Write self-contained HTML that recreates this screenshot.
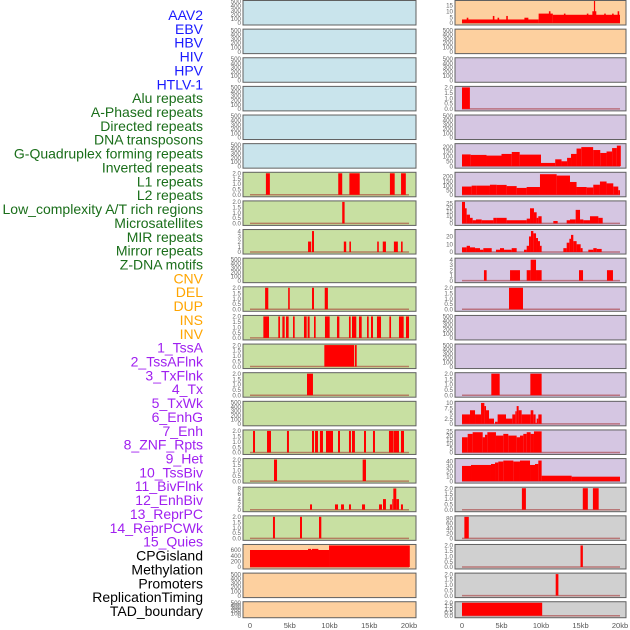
<!DOCTYPE html>
<html><head><meta charset="utf-8"><style>
html,body{margin:0;padding:0;background:#fff;}
svg{display:block;font-family:"Liberation Sans",sans-serif;}
</style></head><body>
<svg id="fig" width="630" height="630" viewBox="0 0 630 630"></svg>
<script>
const trackLabels = ["AAV2","EBV","HBV","HIV","HPV","HTLV-1","Alu repeats","A-Phased repeats","Directed repeats","DNA transposons","G-Quadruplex forming repeats","Inverted repeats","L1 repeats","L2 repeats","Low_complexity A/T rich regions","Microsatellites","MIR repeats","Mirror repeats","Z-DNA motifs","CNV","DEL","DUP","INS","INV","1_TssA","2_TssAFlnk","3_TxFlnk","4_Tx","5_TxWk","6_EnhG","7_Enh","8_ZNF_Rpts","9_Het","10_TssBiv","11_BivFlnk","12_EnhBiv","13_ReprPC","14_ReprPCWk","15_Quies","CPGisland","Methylation","Promoters","ReplicationTiming","TAD_boundary"];
const labelGroups = [6,13,5,15,5];
const xTickLabels = ["0","5kb","10kb","15kb","20kb"];
const xTickValues = [0,5,10,15,20];

const T2 = [0,0.5,1,1.5,2];
const T500 = [0,100,200,300,400,500];

const leftBg = ["b","b","b","b","b","b","g","g","g","g","g","g","g","g","g","g","g","g","g","o","o","o"];
const leftLim = [500,500,500,500,500,500,2,2,4.1,500,2,2,2,2,500,2,2,8.1,2,760,500,500];
const leftTicks = [T500,T500,T500,T500,T500,T500,T2,T2,[0,1,2,3,4],T500,T2,T2,T2,T2,T500,T2,T2,[0,2,4,6,8],T2,[0,200,400,600],T500,T500];
const leftSegs = [
 [],[],[],[],[],[],
 [[2.0,2.5,2],[11.1,11.6,2],[12.5,13.8,2],[17.6,18.2,2],[19.0,19.6,2]],
 [[11.6,11.9,2]],
 [[7.3,7.7,2],[7.8,8.05,4],[11.8,12.1,2],[12.5,12.7,2],[16.0,16.2,2],[16.7,17.1,2],[18.1,18.6,2],[19.0,19.2,2]],
 [],
 [[1.9,2.3,2],[4.8,5.0,2],[7.8,8.05,2],[9.4,9.8,2]],
 [[1.68,2.39,2],[3.56,3.77,2],[4.07,4.36,2],[4.53,4.86,2],[5.41,5.62,2],[6.79,7.13,2],[7.25,7.5,2],[8.05,8.26,2],[9.43,10.02,2],[10.94,11.24,2],[12.45,12.66,2],[12.83,13.37,2],[13.71,14.05,2],[14.72,14.93,2],[15.22,15.47,2],[15.97,16.48,2],[17.53,17.74,2],[18.74,19.33,2],[19.62,20.0,2]],
 [[9.35,13.1,2],[13.2,13.42,2]],
 [[7.17,7.92,2]],
 [],
 [[0.38,0.63,2],[2.14,2.64,2],[4.65,4.9,2],[7.8,8.05,2],[8.18,8.55,2],[8.8,9.18,2],[9.56,10.44,2],[11.07,11.32,2],[12.45,12.7,2],[12.83,13.2,2],[14.34,14.59,2],[15.47,15.72,2],[17.48,17.99,2],[18.03,18.74,2],[18.99,19.37,2]],
 [[3.02,3.4,2],[14.17,14.59,2]],
 [[7.55,7.8,2],[10.69,11.07,2],[11.45,11.82,2],[12.45,12.7,2],[14.09,14.47,2],[16.23,16.6,2],[16.73,17.1,4],[17.6,17.86,2],[17.9,18.03,4],[18.03,18.4,8],[18.4,18.74,4],[18.99,19.24,2]],
 [[2.89,3.14,2],[6.29,6.54,2],[8.68,8.97,2]],
 [[0,9.94,600],[7.3,7.7,640],[7.8,8.6,640],[9.94,20.1,760]],
 [],[]
];

const rightBg = ["o","o","p","p","p","p","p","p","p","p","p","p","p","p","p","p","p","k","k","k","k","k"];
const rightLim = [18.3,500,500,2,500,220,235,27,27.6,4.1,2,500,500,2,10.3,25.5,44,2,86,2,2,2];
const rightTicks = [[0,5,10,15],T500,T500,T2,T500,[0,50,100,150,200],[0,50,100,150,200],[0,5,10,15,20,25],[0,10,20],[0,1,2,3,4],T2,T500,T500,T2,[0,2.5,5,7.5,10],[0,5,10,15,20,25],[0,10,20,30,40],T2,[0,20,40,60,80],T2,T2,T2];
const rightSegs = [
 [[0,9.7,3],[9.7,11.5,8],[11.5,20,7],[0.6,0.8,4.5],[3.9,4.1,6],[4.5,4.7,4.5],[5.6,5.8,6],[7.9,8.4,4.5],[11.0,11.2,10],[12.9,13.1,8],[15.8,16.0,8],[16.5,17.0,10],[16.7,16.85,19],[18.0,18.2,8],[19.0,19.2,8],[19.7,19.9,10]],
 [],[],
 [[0,1.0,2]],
 [],
 [[0,1.1,120],[1.1,3.1,115],[3.1,5.0,108],[5.0,6.3,125],[6.3,7.3,145],[7.3,10.0,118],[10.0,11.8,33],[11.8,12.6,70],[12.6,13.3,50],[13.3,13.8,85],[13.8,14.5,125],[14.5,15.1,180],[15.1,16.6,195],[16.6,17.5,165],[17.5,18.3,135],[18.3,19.0,150],[19.0,19.6,185],[19.6,20.1,210]],
 [[0,1.22,90],[1.22,1.86,100],[1.86,3.54,100],[3.54,4.39,110],[4.39,5.65,108],[5.65,6.92,95],[6.92,8.18,75],[8.18,9.87,85],[9.87,11.98,225],[11.98,13.67,210],[13.67,14.5,140],[14.5,15.78,85],[15.78,16.62,80],[16.62,17.46,110],[17.46,18.3,145],[18.3,19.15,125],[19.15,19.78,90],[19.78,20,50]],
 [[0,0.38,27],[0.38,0.59,19],[0.59,1.01,11],[1.01,1.35,7],[1.35,1.77,4],[1.77,2.49,5],[2.49,3.97,4],[3.97,4.39,7],[4.39,5.65,7],[5.65,8.19,4],[8.19,8.61,6],[8.61,9.11,19],[9.11,9.45,14],[9.45,9.66,7],[9.66,10.08,9],[11.56,12.11,3],[13.25,13.67,4],[13.67,14.39,5],[14.39,14.94,17],[14.94,15.36,5],[15.36,16.2,4],[16.2,17.26,9],[17.26,17.81,7]],
 [[0,0.59,6],[0.59,1.01,8],[1.01,1.65,6],[1.65,2.28,5],[2.28,2.7,3],[2.7,3.76,5],[4.3,4.81,3],[4.81,5.32,5],[5.32,6.29,3],[6.29,6.92,5],[7.85,8.19,3],[8.19,8.48,8],[8.48,8.73,20],[8.73,9.03,27],[9.03,9.37,24],[9.37,9.62,18],[9.62,9.87,14],[9.87,10.08,8],[12.83,13.25,5],[13.25,13.59,12],[13.59,13.8,17],[13.8,14.09,22],[14.09,14.51,14],[14.51,15.02,10],[15.02,15.27,5],[15.99,16.62,3],[16.62,17.05,5],[17.05,17.68,4]],
 [[2.78,3.12,2],[6.08,7.34,2],[8.19,8.69,2],[8.69,9.37,4],[9.37,10.08,2],[14.81,15.32,2],[18.35,19.11,2]],
 [[5.95,7.72,2]],
 [],[],
 [[3.71,4.77,2],[8.65,10.08,2]],
 [[0,1.01,4.5],[1.01,1.65,6.5],[1.65,2.41,4.5],[2.41,2.83,10],[2.83,3.04,8.5],[3.04,3.42,6.5],[3.42,4.05,2.5],[4.18,4.51,1],[4.51,5.57,4.5],[5.57,6.37,2.5],[6.37,6.75,4.5],[6.75,6.92,6],[6.92,7.17,8.5],[7.17,7.55,6.5],[7.55,8.69,4.5],[8.69,9.03,6.5],[9.03,9.32,4.5],[9.32,9.45,0.5],[9.45,9.66,2.5],[9.66,10.08,4.5]],
 [[0,0.72,18],[0.72,1.35,22],[1.35,2.62,24],[2.62,2.91,18],[2.91,3.21,21],[3.21,4.3,24],[4.3,5.23,20],[5.23,5.86,22],[5.86,6.92,20],[6.92,7.34,18],[7.34,7.76,20],[7.76,8.19,22],[8.19,8.69,24],[8.69,9.11,22],[9.11,10.08,25]],
 [[0,1.14,31],[1.14,3.67,33],[3.67,4.18,35],[4.18,4.6,38],[4.6,5.23,40],[5.23,6.5,42],[6.5,7.34,40],[7.34,8.61,42],[8.61,9.24,33],[9.24,9.66,35],[9.66,10.08,42],[10.08,13.88,11],[13.88,20,9]],
 [[7.58,8.09,2],[15.29,15.93,2],[16.57,17.3,2]],
 [[0.3,0.86,86]],
 [[15.0,15.3,2]],
 [[11.86,12.2,2]],
 [[0,10.15,2]]
];

const NS = "http://www.w3.org/2000/svg";
const svg = document.getElementById("fig");
function mk(tag, attrs, parent){ const e=document.createElementNS(NS,tag); for(const k in attrs) e.setAttribute(k,attrs[k]); (parent||svg).appendChild(e); return e; }
const bgColors = {b:"#c9e4ec", g:"#c8e0a2", o:"#fdd09f", p:"#d5c6e2", k:"#d0d0d0"};
const groupColors = ["#1a1aff","#1a6e1a","#ffa500","#a020f0","#000000"];

// labels
let gi=0, gc=0;
trackLabels.forEach((txt,i)=>{
  const t = mk("text",{x:203,y:20+i*13.86,"text-anchor":"end","font-size":"14",fill:groupColors[gi]});
  t.textContent = txt;
  
  
  gc++; if(gc>=labelGroups[gi]){gi++;gc=0;}
});

function rowTop(r){ return r*28.63; }
function rowH(r){ return r===21 ? 16 : 24.5; }

function drawPanel(side, r, bg, lim, ticks, segs){
  const bx = side===0 ? 243 : 455, bw = side===0 ? 173 : 171;
  const x0 = side===0 ? 250 : 462, x1 = side===0 ? 409 : 620;
  const xs = kb => x0 + (kb/20)*(x1-x0);
  const top = rowTop(r)+0.5, h = rowH(r), bot = top+h;
  const ys = v => bot-2 - Math.min(v,lim*1.06)/lim*(h-3);
  const g = mk("g",{});
  
  
  mk("rect",{x:bx,y:top,width:bw,height:h,fill:bgColors[bg],stroke:"none"},g);
  const cp = "clip"+side+"_"+r;
  const cpe = mk("clipPath",{id:cp},g); mk("rect",{x:bx,y:top,width:bw,height:h},cpe);
  const dg = mk("g",{"clip-path":"url(#"+cp+")"},g);
  if(segs.length){
    const bl = mk("line",{x1:xs(0),x2:xs(20),y1:ys(0),y2:ys(0),stroke:"rgba(160,30,30,0.5)","stroke-width":1.5},dg);
    
    
  }
  segs.forEach(s=>{
    const b = mk("rect",{x:xs(s[0]),y:ys(s[2]),width:Math.max(0.8,xs(s[1])-xs(s[0])),height:ys(0)-ys(s[2]),fill:"#ff0000"},dg);
    
    
  });
  mk("rect",{x:bx,y:top,width:bw,height:h,fill:"none",stroke:"#606060","stroke-width":1},g);
  ticks.forEach(tv=>{
    const t = mk("text",{x:bx-2,y:ys(tv)+2.2,"text-anchor":"end","font-size":"6.2",fill:"#666"},g);
    t.textContent = (lim<=2.1 && ticks===T2) ? tv.toFixed(1) : String(tv);
    
    
  });
}
for(let r=0;r<22;r++){
  drawPanel(0,r,leftBg[r],leftLim[r],leftTicks[r],leftSegs[r]);
  drawPanel(1,r,rightBg[r],rightLim[r],rightTicks[r],rightSegs[r]);
}
// x axis labels
[[250,409],[462,620]].forEach((ax,side)=>{
  xTickValues.forEach((v,i)=>{
    const t = mk("text",{x:ax[0]+v/20*(ax[1]-ax[0]),y:628,"text-anchor":"middle","font-size":"7.5",fill:"#555"});
    t.textContent = xTickLabels[i];
    
    
  });
});
</script>
</body></html>
